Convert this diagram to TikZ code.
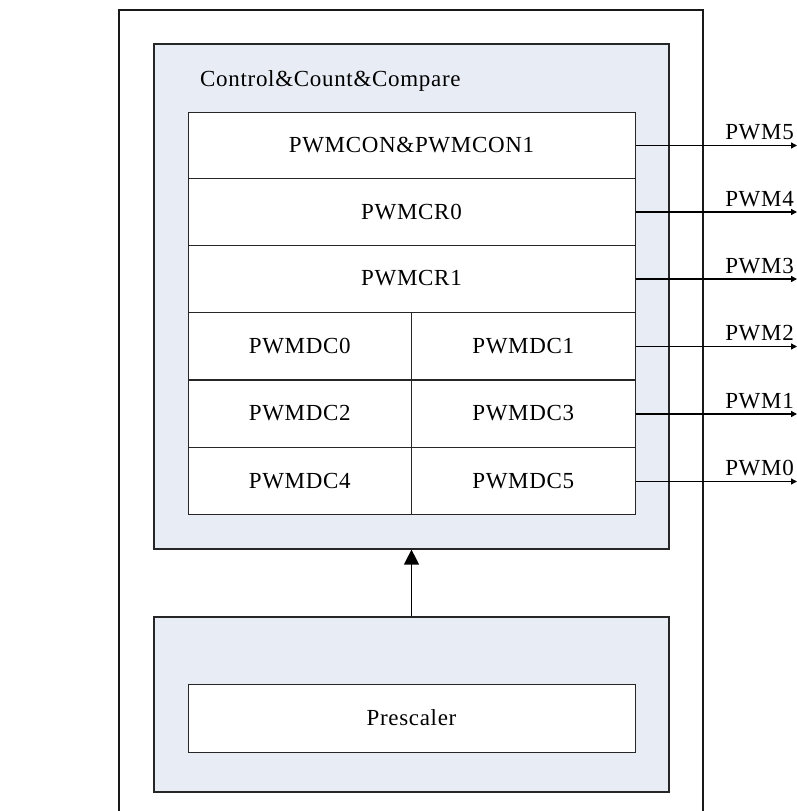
\documentclass[tikz,border=0pt]{standalone}
\usepackage{fontspec}
\setmainfont{Liberation Serif}[LetterSpace=3]
\usetikzlibrary{arrows.meta}
\definecolor{panel}{RGB}{232,236,245}
\begin{document}
\begin{tikzpicture}[x=1pt,y=-1pt,
  every node/.style={font=\fontsize{23}{27}\selectfont},
  panelbox/.style={draw=black!85, line width=1.2pt, fill=panel, inner sep=0pt, rectangle},
  cellbox/.style={draw=black!85, line width=1pt, fill=white, inner sep=0pt, rectangle, minimum height=67pt},
  wide/.style={cellbox, minimum width=447pt},
  half/.style={cellbox, minimum width=223.5pt},
  outwire/.style={line width=1.3pt, -{Triangle[length=6pt,width=6pt]}},
  lbl/.style={inner sep=0pt, anchor=base east}
]
\useasboundingbox (0,0) rectangle (797,811);
% outer frame (open at the bottom)
\draw[line width=1.2pt, black!90] (119,811) -- (119,10) -- (703,10) -- (703,811);
% upper panel
\node[panelbox, minimum width=515pt, minimum height=505pt] (ccc) at (411.5,296.5) {};
\node[inner sep=0pt, anchor=base west] (ccct) at (200,86) {Control\&Count\&Compare};
% register table
\node[wide] (r1) at (411.5,145.5) {PWMCON\&PWMCON1};
\node[wide] (r2) at (411.5,212) {PWMCR0};
\node[wide] (r3) at (411.5,278.5) {PWMCR1};
\node[half] (d0) at (299.75,346) {PWMDC0};
\node[half] (d1) at (523.25,346) {PWMDC1};
\node[half] (d2) at (299.75,413.5) {PWMDC2};
\node[half] (d3) at (523.25,413.5) {PWMDC3};
\node[half] (d4) at (299.75,481) {PWMDC4};
\node[half] (d5) at (523.25,481) {PWMDC5};
% lower panel
\node[panelbox, minimum width=515pt, minimum height=175pt] (pre) at (411.5,704.5) {};
\node[cellbox, minimum width=447pt, minimum height=68pt] (ps) at (411.5,718) {Prescaler};
% arrow from prescaler panel to upper panel
\draw[line width=1.3pt, -{Triangle[length=15pt,width=15pt]}] (pre.north) -- (ccc.south);
% outputs
\coordinate (e5) at (797,145.5);
\coordinate (e4) at (797,212);
\coordinate (e3) at (797,279);
\coordinate (e2) at (797,346.5);
\coordinate (e1) at (797,414);
\coordinate (e0) at (797,481.5);
\draw[outwire] (r1.east |- e5) -- (e5);
\draw[outwire] (r2.east |- e4) -- (e4);
\draw[outwire] (r3.east |- e3) -- (e3);
\draw[outwire] (d1.east |- e2) -- (e2);
\draw[outwire] (d3.east |- e1) -- (e1);
\draw[outwire] (d5.east |- e0) -- (e0);
\node[lbl] (l5) at (794,139) {PWM5};
\node[lbl] (l4) at (794,206) {PWM4};
\node[lbl] (l3) at (794,273) {PWM3};
\node[lbl] (l2) at (794,340.5) {PWM2};
\node[lbl] (l1) at (794,408) {PWM1};
\node[lbl] (l0) at (794,475.5) {PWM0};
\end{tikzpicture}
\end{document}
